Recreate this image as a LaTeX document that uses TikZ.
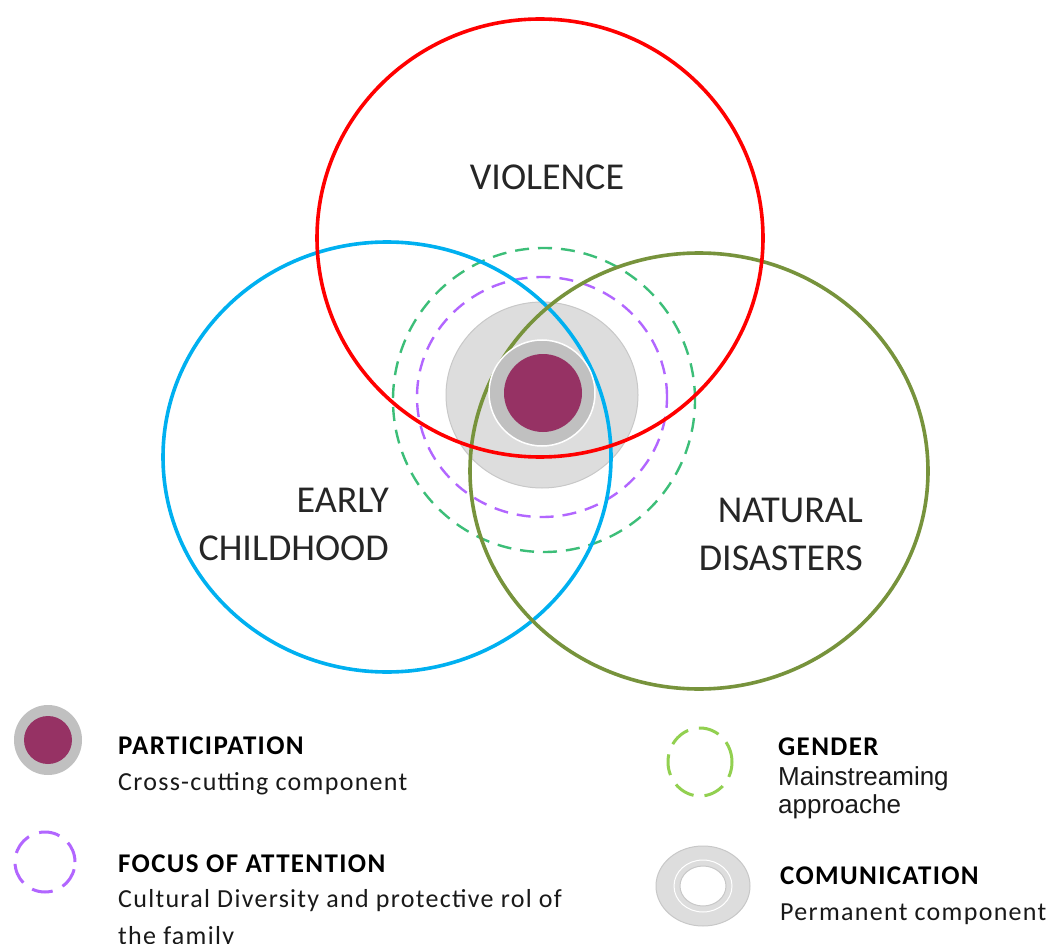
\documentclass[tikz,border=0pt]{standalone}
\usepackage{fontspec}
\setmainfont{Carlito}
\newfontfamily\arialf{Liberation Sans}
\newfontfamily\legfont[LetterSpace=5]{Carlito}
\newfontfamily\legbold[LetterSpace=5]{Carlito Bold}
\definecolor{vred}{HTML}{FF0000}
\definecolor{vblue}{HTML}{00B0F0}
\definecolor{volive}{HTML}{77933C}
\definecolor{dgreen}{HTML}{3CBE78}
\definecolor{lgreen}{HTML}{92D050}
\definecolor{dpurple}{HTML}{B266FF}
\definecolor{maroon}{HTML}{963264}
\definecolor{ringgrey}{HTML}{C0C0C0}
\definecolor{discgrey}{HTML}{DDDDDD}
\definecolor{discedge}{HTML}{C8C8C8}
\begin{document}
\begin{tikzpicture}[x=1pt,y=-1pt,
  venn/.style={line width=3.6pt},
  dashring/.style={line width=2.4pt, dash pattern=on 14pt off 9pt},
  legdash/.style={line width=3pt, dash pattern=on 21pt off 11pt},
  biglabel/.style={inner sep=0pt, font=\fontsize{38}{47.5}\selectfont, text=black!85},
  legtitle/.style={inner sep=0pt, anchor=base west, font=\fontsize{27}{30}\legbold, text=black},
  legtext/.style={inner sep=0pt, anchor=base west, font=\fontsize{26}{36.5}\legfont, text=black!90, align=left},
  legarial/.style={inner sep=0pt, anchor=base west, font=\fontsize{26}{27.5}\arialf, text=black!90, align=left}]
\useasboundingbox (0,0) rectangle (1055,944);
\fill[white] (0,0) rectangle (1055,944);

% central communication disc
\draw[discedge, fill=discgrey, line width=1pt] (542,395) ellipse [x radius=96pt, y radius=93pt];
% dashed rings
\draw[dgreen, dashring] (544,400) ellipse [x radius=151pt, y radius=152pt];
\draw[dpurple, dashring] (542,397) ellipse [x radius=125pt, y radius=120pt];
% Venn circles
\draw[vblue, venn] (387,457) ellipse [x radius=224pt, y radius=215pt];
\draw[volive, venn] (699,471) ellipse [x radius=229pt, y radius=218pt];
\draw[vred, venn] (540,238) ellipse [x radius=223pt, y radius=219pt];
% participation core
\draw[white, fill=ringgrey, line width=1.5pt] (542,393) circle [radius=53pt];
\fill[maroon] (543,393) circle [radius=39pt];

% labels (base anchor of a multi-line node = last line's baseline)
\node[biglabel, anchor=base] (violence) at (547,190) {VIOLENCE};
\node[biglabel, anchor=base east, align=right] (early) at (389,560) {EARLY\\CHILDHOOD};
\node[biglabel, anchor=base east, align=right] (natural) at (863,570) {NATURAL\\DISASTERS};

% legend: participation
\fill[ringgrey] (48,740) ellipse [x radius=34pt, y radius=35pt];
\fill[maroon] (48,740) circle [radius=24pt];
\node[legtitle] (participation) at (118,754) {PARTICIPATION};
\node[legtext] (crosscut) at (118,790) {Cross-cutting component};

% legend: focus of attention
\draw[dpurple, legdash] (45,862) circle [radius=30pt];
\node[legtitle] (focus) at (118,872) {FOCUS OF ATTENTION};
\node[legtext] (cultural) at (118,944) {Cultural Diversity and protective rol of\\the family};

% legend: gender
\draw[lgreen, legdash] (700,762) ellipse [x radius=32pt, y radius=34pt];
\node[legtitle] (gender) at (778,755) {GENDER};
\node[legarial] (mainstream) at (778,813) {Mainstreaming\\approache};

% legend: comunication
\draw[discedge, fill=discgrey, line width=1pt] (703,886) ellipse [x radius=47pt, y radius=40pt];
\draw[white, line width=1pt] (703,886) ellipse [x radius=29pt, y radius=26pt];
\draw[discedge, fill=white, line width=1pt] (703,886) ellipse [x radius=23pt, y radius=20pt];
\node[legtitle] (comunication) at (780,884) {COMUNICATION};
\node[legtext] (permanent) at (780,920) {Permanent component};
\end{tikzpicture}
\end{document}
